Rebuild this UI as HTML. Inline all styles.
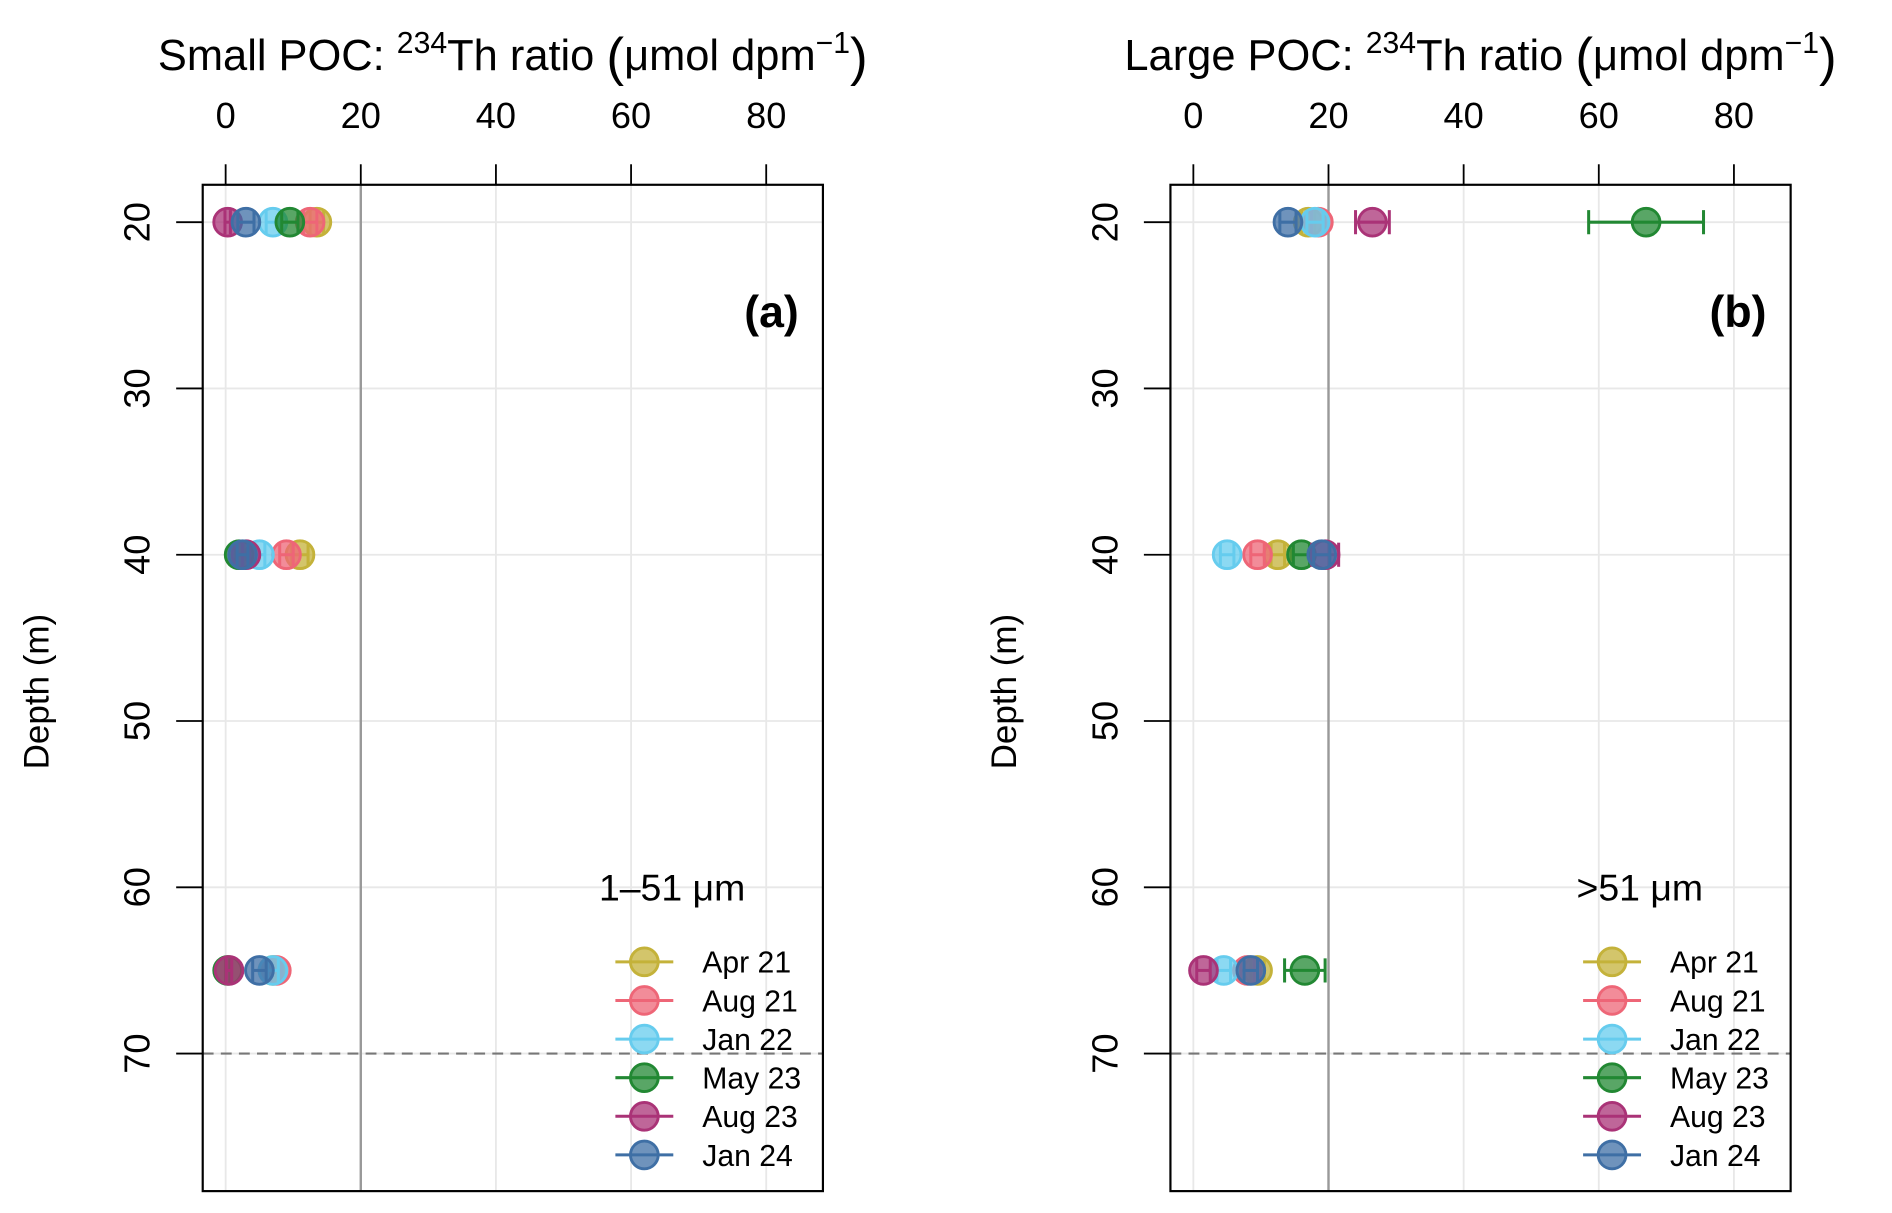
<!DOCTYPE html>
<html><head><meta charset="utf-8"><style>
html,body{margin:0;padding:0;background:#fff;}
svg{display:block;font-family:"Liberation Sans",Arial,sans-serif;}
</style></head><body>
<svg id="chart" width="1892" height="1213" viewBox="0 0 1568 1005" xmlns="http://www.w3.org/2000/svg"></svg>
<script>
const dates = ["Apr 21","Aug 21","Jan 22","May 23","Aug 23","Jan 24"];
const colors = ["#C4B23A","#EE6677","#66CCEE","#228833","#AA3377","#3F6FA5"];
const depths = [20,40,65];
const xTicks = [0,20,40,60,80];
const yTicks = [20,30,40,50,60,70];
// panel a: values[date][depth]
const smallVals = [[13.5,11,7],[12.5,9,7.5],[7,5,7],[9.5,2,0.3],[0.3,3,0.5],[3,2.5,5]];
const smallErr  = [[1,1.2,1],[1,1,0.8],[1,0.8,0.8],[1.2,0.5,0.3],[0.4,0.5,0.4],[1.2,0.8,1]];
// panel b
const largeVals = [[17,12.5,9.5],[18.5,9.5,8],[18,5,4.5],[67,16,16.5],[26.5,19.5,1.5],[14,19,8.5]];
const largeErr  = [[1,1,1],[1,1,1],[1.2,1,1],[8.5,1.2,3],[2.5,2,1],[1.2,1.2,1]];

const NS="http://www.w3.org/2000/svg";
const svg=document.getElementById('chart');
function el(tag,attrs,parent,text){const e=document.createElementNS(NS,tag);for(const k in attrs)e.setAttribute(k,attrs[k]);if(text!==undefined)e.textContent=text;(parent||svg).appendChild(e);return e;}

function panel(off,vals,errs,title,letter,sizeLabel,name){
  const g=el('g',{});
  
  
  const L=off+168,R=off+682,T=153,B=987;
  const x0=off+187, kx=5.6;
  const X=v=>x0+v*kx;
  const Y=d=>184+(d-20)*13.78;
  xTicks.forEach(t=>{const l=el('line',{x1:X(t),x2:X(t),y1:T,y2:B,stroke:'#e8e8e8','stroke-width':1.5},g);});
  yTicks.forEach(t=>{const l=el('line',{x1:L,x2:R,y1:Y(t),y2:Y(t),stroke:'#e8e8e8','stroke-width':1.5},g);});
  const ref=el('line',{x1:X(20),x2:X(20),y1:T,y2:B,stroke:'#999','stroke-width':2},g);
  
  const ml=el('line',{x1:L,x2:R,y1:Y(70),y2:Y(70),stroke:'#777','stroke-width':1.8,'stroke-dasharray':'9,6'},g);
  
  vals.forEach((row,i)=>{row.forEach((v,j)=>{
    const cy=Y(depths[j]), e=errs[i][j], c=colors[i];
    const pg=el('g',{},g);
    
    
    el('line',{x1:X(v-e),x2:X(v+e),y1:cy,y2:cy,stroke:c,'stroke-width':2.5},pg);
    el('line',{x1:X(v-e),x2:X(v-e),y1:cy-10,y2:cy+10,stroke:c,'stroke-width':2.5},pg);
    el('line',{x1:X(v+e),x2:X(v+e),y1:cy-10,y2:cy+10,stroke:c,'stroke-width':2.5},pg);
    el('circle',{cx:X(v),cy:cy,r:11.5,fill:c,'fill-opacity':0.75,stroke:c,'stroke-width':2.4},pg);
  });});
  const bx=el('rect',{x:L,y:T,width:R-L,height:B-T,fill:'none',stroke:'#000','stroke-width':1.8},g);
  
  xTicks.forEach(t=>{
    el('line',{x1:X(t),x2:X(t),y1:136,y2:T,stroke:'#000','stroke-width':1.5},g);
    const tx=el('text',{x:X(t),y:106,'font-size':30,'text-anchor':'middle'},g,String(t));
    
  });
  yTicks.forEach(t=>{
    el('line',{x1:off+146,x2:L,y1:Y(t),y2:Y(t),stroke:'#000','stroke-width':1.5},g);
    const tx=el('text',{x:off+124,y:Y(t),'font-size':30,'text-anchor':'middle',transform:`rotate(-90 ${off+124} ${Y(t)})`},g,String(t));
    
  });
  const yl=el('text',{x:off+40,y:573,'font-size':29,'text-anchor':'middle',transform:`rotate(-90 ${off+40} 573)`},g,'Depth (m)');
  
  const tt=el('text',{x:off+425,y:58,'font-size':36,'text-anchor':'middle'},g);
  
  tt.innerHTML=title+': <tspan dy="-14" font-size="25">234</tspan><tspan dy="14">Th ratio </tspan><tspan font-size="44" dy="4">(</tspan><tspan dy="-4">μmol dpm</tspan><tspan dy="-14" font-size="25">−1</tspan><tspan dy="18" font-size="44">)</tspan>';
  const lt=el('text',{x:off+662,y:271,'font-size':37,'font-weight':'bold','text-anchor':'end'},g,letter);
  
  const sl=el('text',{x:off+557,y:746,'font-size':31,'text-anchor':'middle'},g,sizeLabel);
  
  const lg=el('g',{},g);
  
  dates.forEach((d,i)=>{
    const y=797+i*32, c=colors[i];
    const e=el('g',{},lg);
    
    el('line',{x1:off+510,x2:off+558,y1:y,y2:y,stroke:c,'stroke-width':2.5},e);
    el('circle',{cx:off+534,cy:y,r:11.5,fill:c,'fill-opacity':0.75,stroke:c,'stroke-width':2.4},e);
    el('text',{x:off+582,y:y+9,'font-size':25},e,d);
  });
}
panel(0,smallVals,smallErr,'Small POC','(a)','1–51 μm','panel-a-small-poc');
panel(802,largeVals,largeErr,'Large POC','(b)','>51 μm','panel-b-large-poc');
</script>
</body></html>
